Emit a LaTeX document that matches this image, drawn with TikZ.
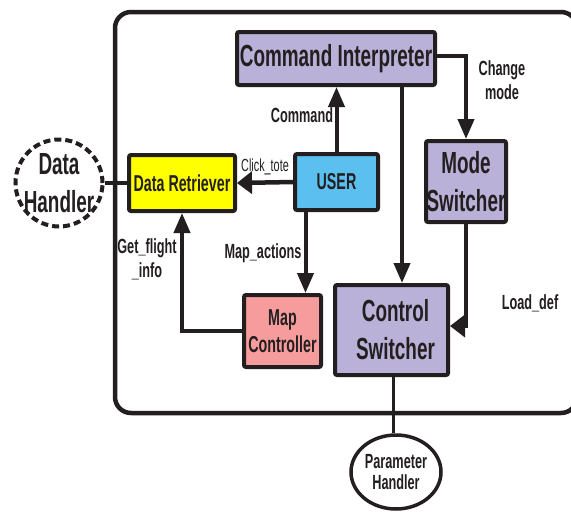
\documentclass[tikz,border=0pt]{standalone}
\usepackage{fontspec}
\newfontfamily\narrowsans{Liberation Sans}[FakeStretch=0.62]
\usetikzlibrary{arrows.meta,shapes.geometric,calc}

\definecolor{ink}{HTML}{231F20}
\definecolor{lav}{HTML}{B9B1D7}
\definecolor{sky}{HTML}{5BC0F0}
\definecolor{yel}{HTML}{FFFF00}
\definecolor{pinkc}{HTML}{F79C9C}

\tikzset{
  box/.style={draw=ink, line width=4pt, rounded corners=2pt, inner sep=0pt,
              align=center, text=ink},
  bigtxt/.style={font=\narrowsans\bfseries\fontsize{30.5}{38}\selectfont},
  midtxt/.style={font=\narrowsans\bfseries\fontsize{23}{27}\selectfont},
  smalltxt/.style={font=\narrowsans\bfseries\fontsize{20.5}{21}\selectfont},
  lbl/.style={text=ink, align=center, inner sep=0pt,
              font=\narrowsans\bfseries\fontsize{20.5}{24}\selectfont},
  arr/.style={draw=ink, line width=4pt, -{Triangle[length=20pt,width=16pt]}},
  sidearr/.style={draw=ink, line width=4.5pt, -{Triangle[length=15pt,width=22pt]}},
  link/.style={draw=ink, line width=3.5pt},
}

\begin{document}
\begin{tikzpicture}[x=1pt,y=-1pt]
\useasboundingbox (0,0) rectangle (571,512);
\clip (0,0) rectangle (571,512);

% system boundary
\draw[ink, line width=4.5pt, rounded corners=16pt] (115,12) rectangle (577,413);

% components
\node[box, fill=lav, minimum width=198pt, minimum height=53pt, bigtxt] (ci) at (336,58.5) {Command Interpreter};
\node[box, fill=sky, minimum width=83pt, minimum height=56pt, midtxt] (user) at (336.5,182) {USER};
\node[box, fill=lav, minimum width=80pt, minimum height=81pt, bigtxt] (ms) at (466,181.5) {Mode\\Switcher};
\node[box, fill=yel, minimum width=106pt, minimum height=56pt, midtxt] (dr) at (182,183) {Data Retriever};
\node[box, fill=pinkc, minimum width=77pt, minimum height=72pt, midtxt] (mc) at (282.5,331) {Map\\Controller};
\node[box, fill=lav, minimum width=113pt, minimum height=90pt, bigtxt] (cs) at (391.5,330) {\hspace*{8pt}Control\\\hspace*{8pt}Switcher};

% external handlers
\node[draw=ink, ellipse, line width=3.5pt, minimum width=90pt, minimum height=74pt,
      inner sep=0pt, align=center, text=ink, smalltxt] (ph) at (396,472) {Parameter\\Handler};
\node[draw=ink, circle, line width=4pt, dash pattern=on 7pt off 4pt, minimum size=87pt,
      inner sep=-8pt, align=center, text=ink, bigtxt] (dh) at (59,183) {Data\\Handler};

% connectors
\draw[arr] (user.north) -- (user.north |- ci.south);
\draw[sidearr] (user.west) -- (dr.east);
\draw[arr] ([xshift=-31pt]user.south) -- ([xshift=-31pt]user.south |- mc.north);
\draw[arr] (mc.west) -| (dr.south);
\draw[arr] ([xshift=66pt]ci.south) -- ([xshift=66pt]ci.south |- cs.north);
\draw[arr] ([yshift=3pt]ci.east) -| (ms.north);
\draw[sidearr] (ms.south) |- ([yshift=4pt]cs.east);
\draw[link] ([xshift=2pt]cs.south) -- ([xshift=2pt]cs.south |- ph.north);
\draw[link, line width=4pt] (dh.east) -- (dr.west);

% connector labels
\node[lbl] (lcmd) at (302,115) {Command};
\node[lbl, font=\narrowsans\fontsize{17.5}{20}\selectfont] (lclick) at (265,167) {Click\_tote};
\node[lbl] (lmap) at (263,253) {Map\_actions};
\node[lbl] (lget) at (147,259) {Get\_flight\\\_info};
\node[lbl] (lchg) at (502,80) {Change\\mode};
\node[lbl] (lload) at (530,303) {Load\_def};
\end{tikzpicture}
\end{document}
